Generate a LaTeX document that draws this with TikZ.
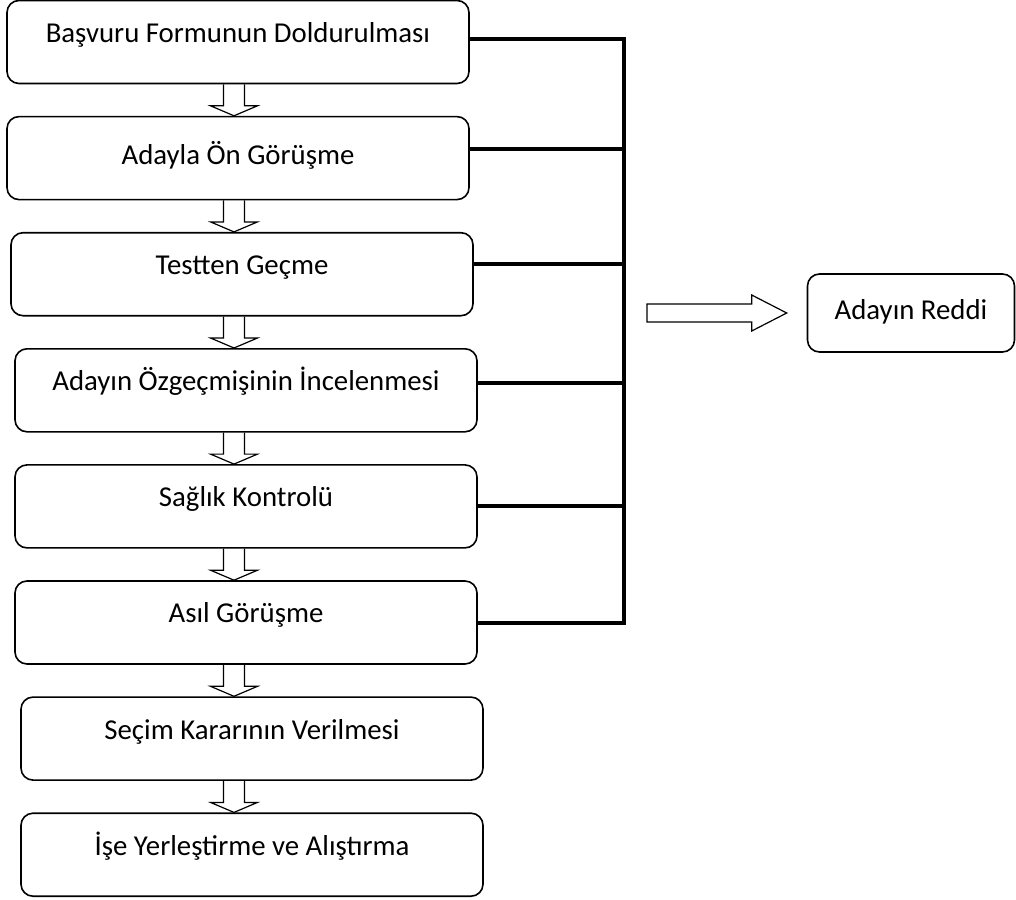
\documentclass[tikz,border=0pt]{standalone}
\usepackage{fontspec}
\setmainfont{Carlito}
\usetikzlibrary{positioning,calc}

\begin{document}
\begin{tikzpicture}[x=0.5pt, y=-0.5pt, node distance={15.75pt},
		stage/.style={draw, rounded corners=6pt, line width=0.8pt, minimum width=231pt, minimum height=41.5pt, font=\fontsize{14.4pt}{17pt}\selectfont, text height=2ex, text depth=1.9ex},
		link/.style={line width=2pt},
		hollow/.style={line width=0.6pt},
		godown/.style={hollow, to path={($(\tikztostart)+(-5.25pt,0)$) -- ($(\tikztotarget)+(-5.25pt,5pt)$) -- ($(\tikztotarget)+(-11.75pt,5pt)$) -- (\tikztotarget) -- ($(\tikztotarget)+(11.75pt,5pt)$) -- ($(\tikztotarget)+(5.25pt,5pt)$) -- ($(\tikztostart)+(5.25pt,0)$)}}]
		\useasboundingbox (0,0) rectangle (1016,899);

		\node[stage] (b1) at (238,42) {Başvuru Formunun Doldurulması};
		\node[stage, text depth=0.72ex] (b2) [below=of b1] {Adayla Ön Görüşme};
		\node[stage] (b3) [below=of b2, xshift=2pt] {Testten Geçme};
		\node[stage] (b4) [below=of b3, xshift=2pt] {Adayın Özgeçmişinin İncelenmesi};
		\node[stage] (b5) [below=of b4] {Sağlık Kontrolü};
		\node[stage] (b6) [below=of b5] {Asıl Görüşme};
		\node[stage] (b7) [below=of b6, xshift=3pt] {Seçim Kararının Verilmesi};
		\node[stage] (b8) [below=of b7] {İşe Yerleştirme ve Alıştırma};

		\node[stage, minimum width=103.5pt, minimum height=39pt, text depth=0.72ex] (reddi) at (911,313) {Adayın Reddi};

		\coordinate (bus) at (624,0);
		\coordinate (ax) at (234,0);

		% reject lines
		\draw[link] ([yshift=1.5pt]b1.east) -- ([yshift=1.5pt]b1.east -| bus) -- (b6.east -| bus) -- (b6.east);
		\draw[link] ([yshift=4.5pt]b2.east) -- ([yshift=4.5pt]b2.east -| bus);
		\draw[link] ([yshift=5pt]b3.east) -- ([yshift=5pt]b3.east -| bus);
		\draw[link] ([yshift=3.5pt]b4.east) -- ([yshift=3.5pt]b4.east -| bus);
		\draw[link] (b5.east) -- (b5.east -| bus);

		\draw[hollow] ($(reddi.west -| bus)+(11.5pt,4.5pt)$) -- ($(reddi.west)+(-27.5pt,4.5pt)$) -- ($(reddi.west)+(-27.5pt,9pt)$) -- ($(reddi.west)+(-10pt,0)$) -- ($(reddi.west)+(-27.5pt,-9pt)$) -- ($(reddi.west)+(-27.5pt,-4.5pt)$) -- ($(reddi.west -| bus)+(11.5pt,-4.5pt)$) -- cycle;

		% steps
		\draw[godown] (b1.south -| ax) to (b2.north -| ax);
		\draw[godown] (b2.south -| ax) to (b3.north -| ax);
		\draw[godown] (b3.south -| ax) to (b4.north -| ax);
		\draw[godown] (b4.south -| ax) to (b5.north -| ax);
		\draw[godown] (b5.south -| ax) to (b6.north -| ax);
		\draw[godown] (b6.south -| ax) to (b7.north -| ax);
		\draw[godown] (b7.south -| ax) to (b8.north -| ax);
	\end{tikzpicture}
\end{document}
